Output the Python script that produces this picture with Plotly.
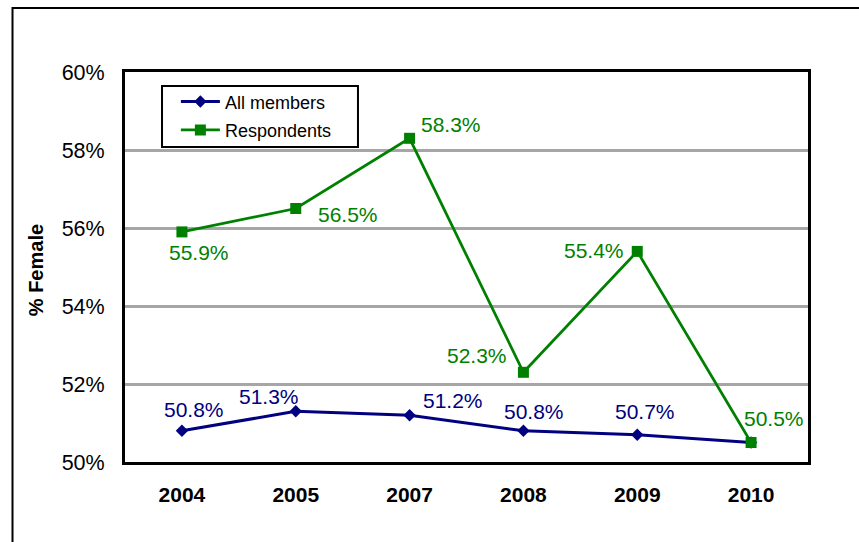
import plotly.graph_objects as go

years = ["2004", "2005", "2007", "2008", "2009", "2010"]
all_members = [50.8, 51.3, 51.2, 50.8, 50.7, 50.5]
respondents = [55.9, 56.5, 58.3, 52.3, 55.4, 50.5]
y_ticks = [50, 52, 54, 56, 58, 60]

NAVY = "#000080"
GREEN = "#008000"
FONT = "Liberation Sans, Arial, sans-serif"

# label offsets (pixels, screen-down positive) relative to each point
blue_off = [(12, -21), (-27, -15), (43, -15), (11, -19), (8, -23), None]
green_off = [(17, 21), (52, 6), (41, -14), (-46, -17), (-43, -1), (23, -24)]

fig = go.Figure()
fig.add_trace(go.Scatter(
    x=years, y=all_members, name="All members", mode="lines+markers",
    legendgroup="a",
    line=dict(color=NAVY, width=3),
    marker=dict(symbol="diamond", size=9.5, color=NAVY),
))
fig.add_trace(go.Scatter(
    x=years, y=respondents, name="Respondents", mode="lines+markers",
    legendgroup="b",
    line=dict(color=GREEN, width=2.75),
    marker=dict(symbol="square", size=11, color=GREEN),
))

annotations = []
for i, (yv, off) in enumerate(zip(all_members, blue_off)):
    if off is None:
        continue
    annotations.append(dict(x=i, y=yv, xref="x", yref="y",
                            text=f"{yv:.1f}%", showarrow=False,
                            xshift=off[0], yshift=-off[1],
                            font=dict(family=FONT, size=21, color=NAVY)))
for i, (yv, off) in enumerate(zip(respondents, green_off)):
    annotations.append(dict(x=i, y=yv, xref="x", yref="y",
                            text=f"{yv:.1f}%", showarrow=False,
                            xshift=off[0], yshift=-off[1],
                            font=dict(family=FONT, size=21, color=GREEN)))
annotations.append(dict(x=-0.130, y=0.5, xref="paper", yref="paper",
                        xanchor="center", yanchor="middle",
                        text="<b>% Female</b>", textangle=-90, showarrow=False,
                        yshift=-3,
                        font=dict(family=FONT, size=20, color="black")))

fig.update_layout(
    width=859, height=542,
    margin=dict(l=125, r=51, t=72, b=80),
    paper_bgcolor="white", plot_bgcolor="white",
    font=dict(family=FONT, color="black"),
    showlegend=True,
    legend=dict(x=0.054, y=0.971, xanchor="left", yanchor="top",
                borderwidth=0, bgcolor="rgba(0,0,0,0)",
                font=dict(family=FONT, size=18, color="black"),
                indentation=14, itemwidth=39, tracegroupgap=2),
    annotations=annotations,
    shapes=[
        dict(type="rect", xref="paper", yref="paper",
             x0=-0.1647, x1=1.2, y0=-0.3, y1=1.164,
             line=dict(color="black", width=2), layer="below"),
        # legend frame
        dict(type="rect", xref="paper", yref="paper",
             x0=0.0542, x1=0.3411, y0=0.808, y1=0.9641,
             line=dict(color="black", width=2), fillcolor="white",
             layer="below"),
    ],
)
fig.update_xaxes(
    type="category", range=[-0.5, 5.5],
    showline=True, linecolor="black", linewidth=3, mirror=True,
    showgrid=False, ticks="", ticklabelstandoff=12,
    tickfont=dict(family=FONT, size=21, color="black", weight="bold"),
)
fig.update_yaxes(
    range=[50, 60], tickvals=y_ticks, ticktext=[f"{v}%" for v in y_ticks],
    showline=True, linecolor="black", linewidth=3, mirror=True,
    showgrid=True, gridcolor="#A6A6A6", gridwidth=2.5,
    zeroline=False, ticks="", ticklabelstandoff=13,
    tickfont=dict(family=FONT, size=21.5, color="black"),
)
fig.write_html("out.html",
               config={"displayModeBar": False},
               post_script="document.body.style.margin='0';document.body.style.overflow='hidden';")
